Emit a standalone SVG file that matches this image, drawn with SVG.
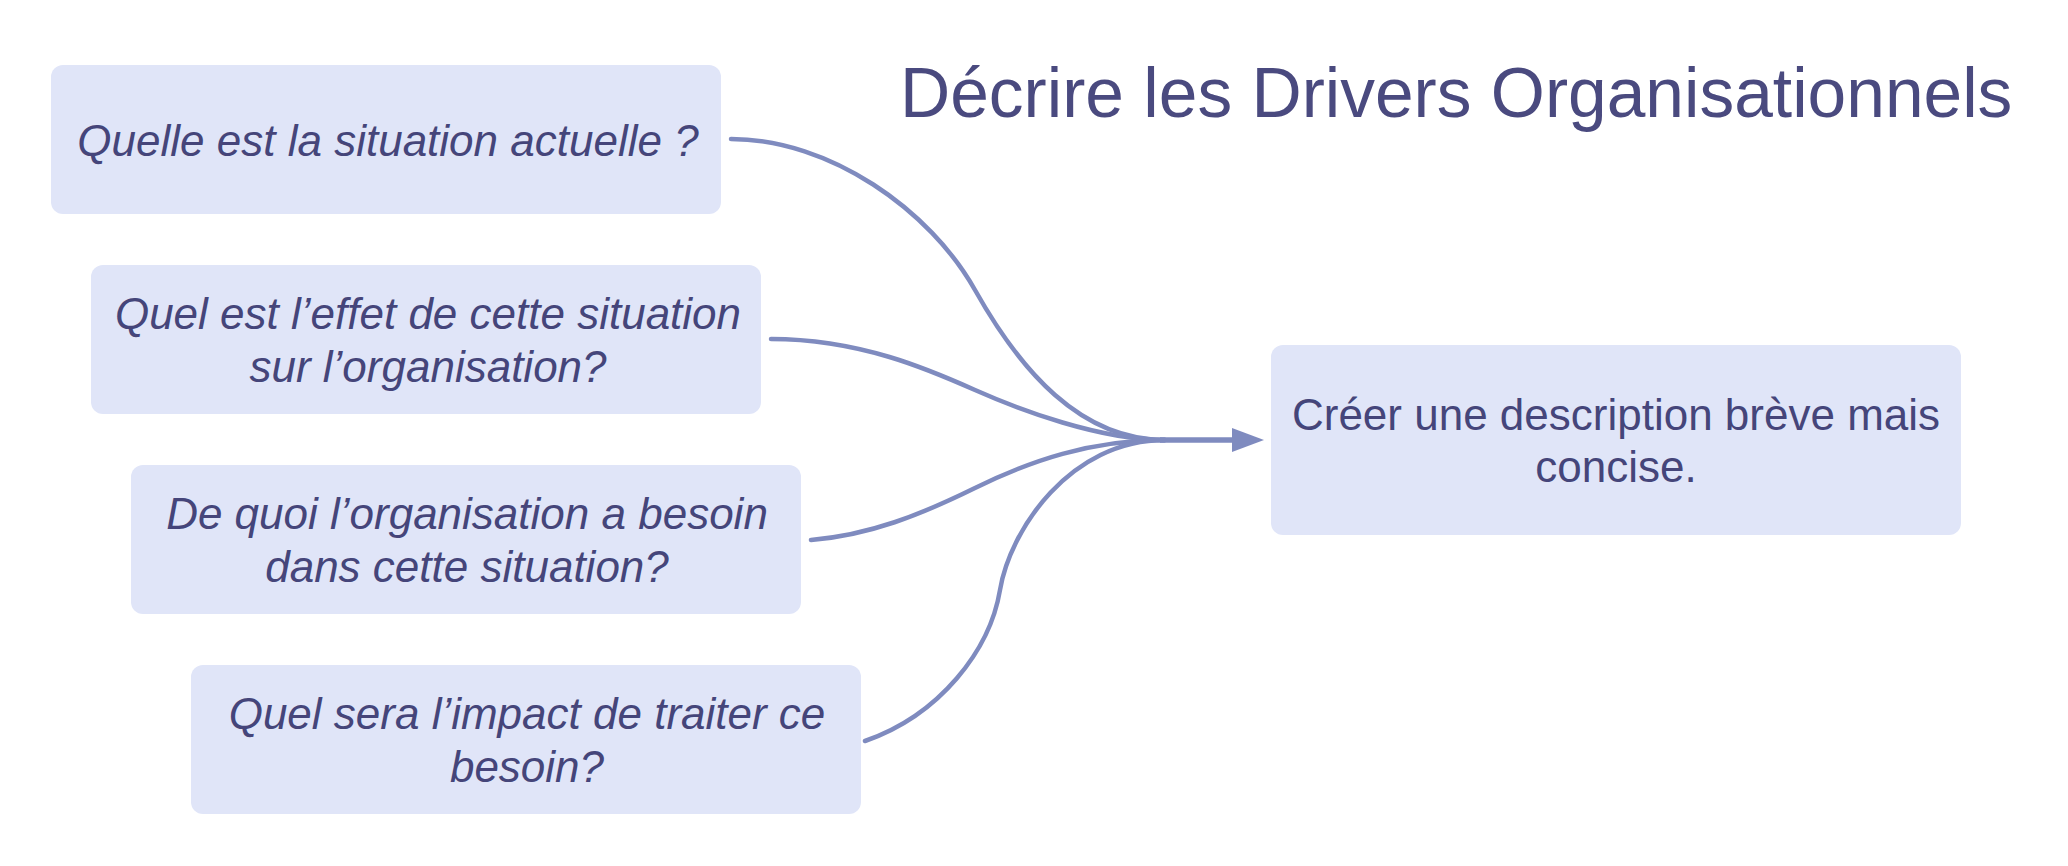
<svg xmlns="http://www.w3.org/2000/svg" width="2068" height="866" viewBox="0 0 2068 866">
<style>
.box{fill:#e0e5f8;}
.q{font-family:"Liberation Sans",Arial,sans-serif;font-size:44px;font-style:italic;fill:#45457a;text-anchor:middle;}
.n{font-family:"Liberation Sans",Arial,sans-serif;font-size:44px;fill:#45457a;text-anchor:middle;}
.title{font-family:"Liberation Sans",Arial,sans-serif;font-size:69.5px;fill:#4a4a7f;}
.c{fill:none;stroke:#7f8bbf;stroke-width:4.5;stroke-linecap:round;}
</style>
<defs>
<marker id="ah" markerUnits="userSpaceOnUse" markerWidth="34" markerHeight="26" refX="0" refY="12" orient="auto">
<path d="M0,0 L32,12 L0,24 Z" fill="#7f8bbf"/>
</marker>
</defs>
<rect width="2068" height="866" fill="#ffffff"/>
<text class="title" x="900" y="117">Décrire les Drivers Organisationnels</text>
<g id="connectors">
<path class="c" d="M731,139 C830,139 930,210 975,290 S1080,440 1165,440"/>
<path class="c" d="M771,339 C860,339 930,370 975,390 S1100,440 1165,440"/>
<path class="c" d="M811,540 C870,535 920,515 975,488 S1090,440 1165,440"/>
<path class="c" d="M865,741 C940,715 990,650 1000,590 S1070,440 1165,440"/>
<path class="c" d="M1160,440 L1232,440" style="stroke-width:5.5;stroke-linecap:butt" marker-end="url(#ah)"/>
</g>
<g id="n1">
<rect class="box" x="51" y="65" width="670" height="149" rx="12"/>
<text class="q" x="388" y="156">Quelle est la situation actuelle ?</text>
</g>
<g id="n2">
<rect class="box" x="91" y="265" width="670" height="149" rx="12"/>
<text class="q" x="428" y="329">Quel est l’effet de cette situation</text>
<text class="q" x="428" y="382">sur l’organisation?</text>
</g>
<g id="n3">
<rect class="box" x="131" y="465" width="670" height="149" rx="12"/>
<text class="q" x="467" y="529">De quoi l’organisation a besoin</text>
<text class="q" x="467" y="582">dans cette situation?</text>
</g>
<g id="n4">
<rect class="box" x="191" y="665" width="670" height="149" rx="12"/>
<text class="q" x="527" y="729">Quel sera l’impact de traiter ce</text>
<text class="q" x="527" y="782">besoin?</text>
</g>
<g id="n5">
<rect class="box" x="1271" y="345" width="690" height="190" rx="12"/>
<text class="n" x="1616" y="430">Créer une description brève mais</text>
<text class="n" x="1616" y="482">concise.</text>
</g>
</svg>
